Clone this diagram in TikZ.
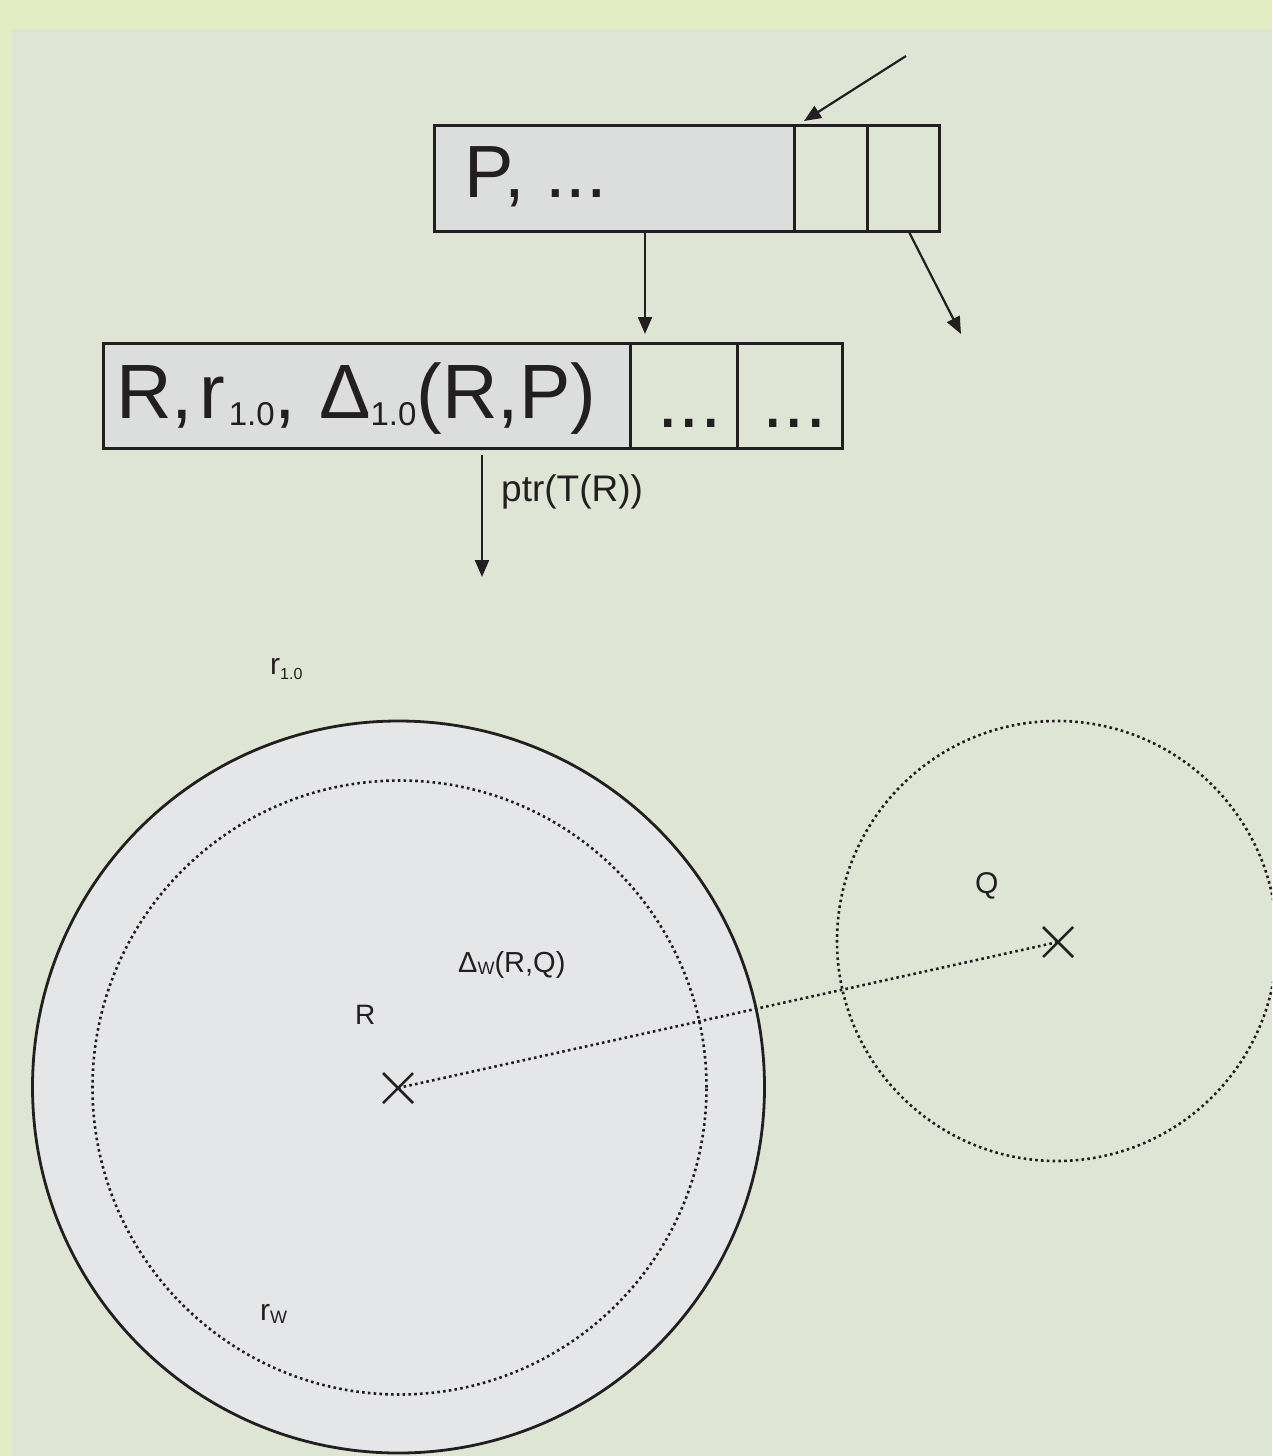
\documentclass[tikz,border=0pt]{standalone}
\usepackage{fontspec}
\setmainfont{Liberation Sans}
\usetikzlibrary{arrows.meta,calc}
\definecolor{outerbg}{RGB}{228,236,196}
\definecolor{panel}{RGB}{223,229,213}
\definecolor{boxgray}{RGB}{220,222,222}
\definecolor{circgray}{RGB}{229,230,231}
\definecolor{ink}{RGB}{35,31,32}
\newcommand\fs[1]{\fontsize{#1}{#1}\selectfont}
\newcommand\sbs[3]{{\fs{#1}\raisebox{-#2pt}{#3}}}
\begin{document}
\begin{tikzpicture}[x=1pt,y=-1pt,
  cell/.style={draw=ink,line width=2.5pt,anchor=north west,inner sep=0pt,minimum height=106pt},
  arr/.style={draw=ink,line width=2.2pt,-{Triangle[length=17pt,width=14pt]}},
  lbl/.style={anchor=base west,inner sep=0pt,text=ink},
  dotline/.style={draw=ink,line width=2.6pt,dash pattern=on 2.6pt off 3.2pt},
  xmark/.style={draw=ink,line width=2.5pt}]
\useasboundingbox (0,0) rectangle (1272,1456);
\clip (0,0) rectangle (1272,1456);
\fill[outerbg] (0,0) rectangle (1272,1456);
\fill[panel] (11,29) rectangle (1272,1456);
% top record
\node[cell,fill=boxgray,minimum width=360pt] (p1) at (433,124) {};
\node[cell,minimum width=73pt] (p2) at (793,124) {};
\node[cell,minimum width=72pt] (p3) at (866,124) {};
\node[lbl] (ptext) at (464,197) {\fs{74}P, ...};
% second record
\node[cell,fill=boxgray,minimum width=527pt,minimum height=105pt] (r1) at (102,342) {};
\node[cell,minimum width=107pt,minimum height=105pt] (r2) at (629,342) {};
\node[cell,minimum width=105pt,minimum height=105pt] (r3) at (736,342) {};
\node[lbl] (rtext) at (116,418) {\fs{77}R,\hspace{6pt}r\hspace{4pt}\sbs{33}{7}{1.0},\hspace{23pt}Δ\sbs{33}{7}{1.0}(R,P)};
\node[lbl] (d1) at (657,427) {\fs{77}...};
\node[lbl] (d2) at (762,427) {\fs{77}...};
% arrows
\coordinate (in) at (906,56);
\coordinate (inTip) at (804,121);
\coordinate (t1) at (645,334);
\coordinate (t2) at (961,334);
\coordinate (t3) at (482,577);
\draw[arr] (in) -- (inTip);
\draw[arr] (t1 |- p1.south) -- (t1);
\draw[arr] ([xshift=6pt]p3.south) -- (t2);
\draw[arr] ([yshift=-5pt]t3 |- r1.south) -- (t3);
\node[lbl] (ptr) at (501,501) {\fs{37}ptr(T(R))};
% circles
\node[lbl] (r10) at (270,674) {\fs{30}r\sbs{16}{5}{1.0}};
\node[circle,draw=ink,fill=circgray,line width=2.8pt,minimum size=732pt,inner sep=0pt] (outer) at (398.5,1087) {};
\node[circle,dotline,minimum size=614pt,inner sep=0pt] (inner) at (399.5,1087.5) {};
\node[circle,dotline,minimum size=440pt,inner sep=0pt] (qc) at (1057,941) {};
\coordinate (cR) at (398,1088);
\coordinate (cQ) at (1058,942);
\draw[xmark] ($(cR)+(-15,-15)$) -- ($(cR)+(15,15)$) ($(cR)+(-15,15)$) -- ($(cR)+(15,-15)$);
\draw[xmark] ($(cQ)+(-15,-15)$) -- ($(cQ)+(15,15)$) ($(cQ)+(-15,15)$) -- ($(cQ)+(15,-15)$);
\draw[dotline] (cR) -- (cQ);
\node[lbl] (Rl) at (355,1024) {\fs{28}R};
\node[lbl] (Ql) at (975,893) {\fs{30}Q};
\node[lbl] (dw) at (458,972) {\fs{29}Δ\sbs{18}{2}{W}(R,Q)};
\node[lbl] (rw) at (260,1320) {\fs{30}r\sbs{18}{3}{W}};
\end{tikzpicture}
\end{document}
